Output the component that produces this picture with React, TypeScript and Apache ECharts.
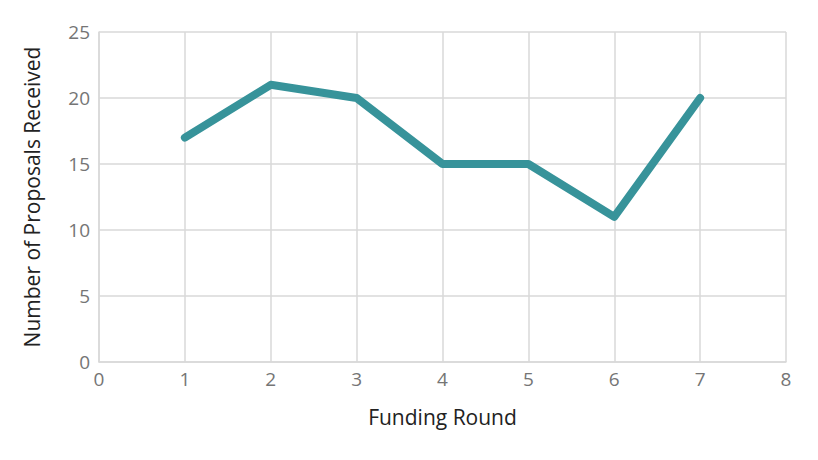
import React, { useEffect, useRef } from "react";
import * as echarts from "echarts";

const rounds = [1, 2, 3, 4, 5, 6, 7];
const proposals = [17, 21, 20, 15, 15, 11, 20];
const xTitle = "Funding Round";
const yTitle = "Number of Proposals Received";

export default function App() {
  const ref = useRef<HTMLDivElement>(null);
  useEffect(() => {
    const chart = echarts.init(ref.current!, null, { renderer: "svg" });
    const font = "'Open Sans', sans-serif";
    const gridLine = { show: true, lineStyle: { color: "#d9d9d9", width: 1.5 } };
    chart.setOption({
      animation: false,
      backgroundColor: "#ffffff",
      grid: { left: 99, top: 32, width: 687, height: 330, containLabel: false },
      xAxis: {
        type: "value",
        min: 0,
        max: 8,
        interval: 1,
        name: xTitle,
        nameLocation: "middle",
        nameGap: 44,
        nameTextStyle: { color: "#222", fontSize: 21, fontFamily: font },
        axisLine: { show: true, lineStyle: { color: "#d9d9d9", width: 1.5 } },
        axisTick: { show: false },
        axisLabel: { color: "#757575", fontSize: 19, fontFamily: font, margin: 7 },
        splitLine: gridLine,
      },
      yAxis: {
        type: "value",
        min: 0,
        max: 25,
        interval: 5,
        name: yTitle,
        nameLocation: "middle",
        nameGap: 57,
        nameTextStyle: { color: "#222", fontSize: 21, fontFamily: font },
        axisLine: { show: true, lineStyle: { color: "#d9d9d9", width: 1.5 } },
        axisTick: { show: false },
        axisLabel: { color: "#757575", fontSize: 19, fontFamily: font, margin: 9 },
        splitLine: gridLine,
      },
      series: [
        {
          type: "line",
          data: rounds.map((r, i) => [r, proposals[i]]),
          showSymbol: false,
          symbol: "none",
          lineStyle: { color: "#37939a", width: 8, cap: "round", join: "round" },
          itemStyle: { color: "#37939a" },
        },
      ],
    });
    return () => chart.dispose();
  }, []);
  return (
    <div
      ref={ref}
      style={{ position: "absolute", left: 0, top: 0, width: 818, height: 460 }}
    />
  );
}
